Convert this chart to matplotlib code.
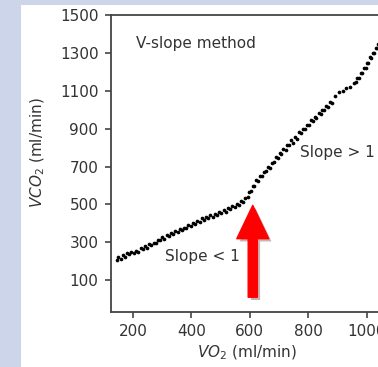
import matplotlib
matplotlib.use("Agg")
import matplotlib.pyplot as plt
from matplotlib.patches import Rectangle
import matplotlib.patheffects as pe

# VO2 / VCO2 points (ml/min)
vo2 = [145, 150, 158, 165, 172, 180, 188, 195, 203, 210, 218, 226, 233, 240, 248,
       256, 263, 271, 278, 286, 293, 300, 308, 315, 323, 330, 338, 345, 353, 360,
       368, 375, 383, 390, 398, 405, 413, 420, 428, 435, 443, 450, 458, 465, 473,
       480, 488, 495, 503, 510, 518, 525, 533, 540, 548, 555, 563, 570, 578, 585,
       592, 598, 604, 610, 615, 622, 628, 635, 640, 648, 655, 662, 668, 675, 682,
       688, 695, 702, 708, 715, 722, 728, 735, 742, 748, 755, 762, 768, 775, 782,
       788, 795, 802, 808, 815, 822, 828, 835, 842, 848, 855, 862, 868, 875, 882,
       892, 905, 918, 930, 942, 955, 962, 968, 974, 980, 985, 990, 996, 1000, 1005,
       1010, 1015, 1020, 1025, 1030, 1035, 1038]
vco2 = [205, 220, 212, 232, 222, 241, 236, 250, 246, 256, 251, 268, 262, 282, 270,
        290, 284, 298, 296, 310, 314, 326, 318, 338, 334, 350, 343, 360, 354, 368,
        364, 378, 373, 390, 386, 400, 394, 414, 406, 426, 416, 436, 428, 442, 436,
        452, 446, 462, 454, 470, 462, 482, 474, 494, 486, 504, 498, 518, 512, 534,
        540, 566, 570, 596, 598, 630, 624, 650, 650, 672, 676, 700, 694, 720, 724,
        750, 746, 772, 764, 790, 788, 815, 812, 838, 826, 858, 846, 882, 876, 900,
        898, 920, 918, 944, 940, 964, 958, 984, 978, 1000, 996, 1020, 1014, 1040, 1034,
        1075, 1092, 1100, 1115, 1122, 1140, 1146, 1166, 1168, 1194, 1196, 1218, 1222, 1248, 1246,
        1276, 1274, 1300, 1300, 1326, 1328, 1345]

xticks = [200, 400, 600, 800, 1000]
yticks = [100, 300, 500, 700, 900, 1100, 1300, 1500]

threshold_vo2 = 610
threshold_vco2 = 495

fig = plt.figure(figsize=(3.78, 3.67), dpi=100)
fig.patch.set_facecolor("#ccd5ea")
fig.patches.append(Rectangle((21 / 378, 0), 1, 1 - 5 / 367, transform=fig.transFigure,
                             facecolor="white", edgecolor="none", zorder=-5))

ax = fig.add_axes([111 / 378, 55 / 367, 285 / 378, 297 / 367])
ax.set_facecolor("white")
ax.scatter(vo2, vco2, s=7, c="black", marker="o", linewidths=0, zorder=3)

ax.set_xlim(125, 1100)
ax.set_ylim(-68, 1500)
ax.set_xticks(xticks)
ax.set_yticks(yticks)
ax.tick_params(direction="out", length=4, width=1.2, color="#444444",
               labelsize=11, labelcolor="#333333", pad=5)
for side in ["left", "bottom", "top"]:
    ax.spines[side].set_color("#444444")
    ax.spines[side].set_linewidth(1.3)
ax.spines["right"].set_visible(False)

ax.text(210, 1347, "V-slope method", fontsize=11, color="#333333", va="center")
ax.text(771, 774, "Slope > 1", fontsize=11, color="#333333", va="center")
ax.text(310, 226, "Slope < 1", fontsize=11, color="#333333", va="center")

ax.annotate("", xy=(threshold_vo2, threshold_vco2), xytext=(threshold_vo2, 10),
            arrowprops=dict(arrowstyle="simple,head_length=1.2,head_width=1.15,tail_width=0.33",
                            fc="#ff0000", ec="#ff0000", mutation_scale=20,
                            shrinkA=0, shrinkB=0,
                            path_effects=[pe.SimplePatchShadow(offset=(2, -2), alpha=0.3),
                                          pe.Normal()]),
            zorder=4)

fig.text(38 / 378, 1 - 153 / 367, r"$\mathit{VCO}_2$ (ml/min)", rotation=90,
         fontsize=11, color="#333333", ha="center", va="center")
fig.text(247 / 378, 1 - 353 / 367, r"$\mathit{VO}_2$ (ml/min)",
         fontsize=11, color="#333333", ha="center", va="center")

fig.savefig("out.png", dpi=100, facecolor=fig.get_facecolor())
